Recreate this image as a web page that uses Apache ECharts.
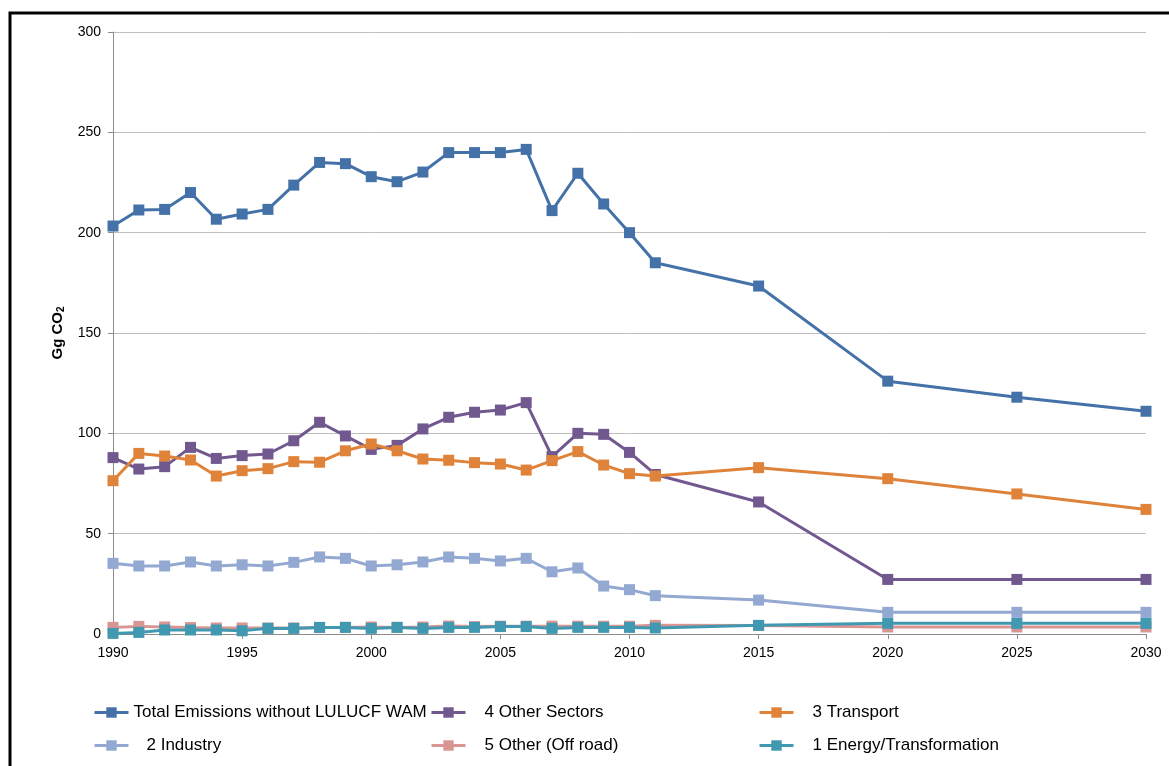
<!DOCTYPE html>
<html>
<head>
<meta charset="utf-8">
<script src="https://cdn.jsdelivr.net/npm/echarts@6/dist/echarts.min.js"></script>
<style>
html,body{margin:0;padding:0;background:#fff;}
#chart{width:1169px;height:766px;}
</style>
</head>
<body>
<div id="chart"></div>
<script>
// ---- data ----
const years = [1990,1991,1992,1993,1994,1995,1996,1997,1998,1999,2000,2001,2002,2003,2004,2005,2006,2007,2008,2009,2010,2011,2015,2020,2025,2030];
const totalEmissions = [203.3,211.3,211.6,220,206.7,209.3,211.6,223.7,235,234.4,227.9,225.4,230.2,239.9,239.9,239.9,241.5,211,229.6,214.3,200,185,173.4,126,118,111];
const otherSectors = [87.9,82.2,83.4,93,87.5,88.9,89.7,96.3,105.5,98.7,92,94,102.2,108,110.5,111.6,115.3,88.4,100,99.5,90.5,79.5,65.8,27.2,27.2,27.2];
const transport = [76.4,90,88.7,86.7,78.7,81.4,82.4,85.9,85.6,91.3,94.7,91.3,87.2,86.6,85.4,84.7,81.7,86.4,90.9,84.2,79.9,78.7,82.9,77.4,69.8,62.1];
const industry = [35.2,33.9,33.9,35.9,33.9,34.5,33.9,35.7,38.4,37.7,33.9,34.5,35.9,38.4,37.7,36.4,37.7,31,32.9,23.9,22.1,19.1,16.9,10.8,10.8,10.8];
const otherOffRoad = [3.3,3.8,3.5,3.2,3.0,3.0,3.0,3.0,3.2,3.3,3.5,3.3,3.5,4.0,3.7,3.9,3.9,3.9,3.9,3.9,3.9,4.3,4.2,3.5,3.5,3.5];
const energyTransformation = [0.3,0.8,2.0,2.0,2.0,1.6,2.8,2.8,3.3,3.3,2.8,3.3,2.8,3.3,3.3,3.7,3.7,2.8,3.3,3.3,3.3,3.0,4.3,5.3,5.3,5.3];
const seriesNames = ['Total Emissions without LULUCF WAM','4 Other Sectors','3 Transport','2 Industry','5 Other (Off road)','1 Energy/Transformation'];
const yTicks = [0,50,100,150,200,250,300];
const xTicks = [1990,1995,2000,2005,2010,2015,2020,2025,2030];

// ---- styles ----
const colors = ['#4472A8','#71588F','#E0833A','#93A9D1','#D99592','#4099B0'];
const values = [totalEmissions, otherSectors, transport, industry, otherOffRoad, energyTransformation];
const FONT = "'Liberation Sans', 'DejaVu Sans', sans-serif";

const series = seriesNames.map((n, i) => ({
  name: n,
  type: 'line',
  data: years.map((y, k) => [y, values[i][k]]),
  symbol: 'rect',
  symbolSize: 11,
  lineStyle: { color: colors[i], width: 3 },
  itemStyle: { color: colors[i] },
  emphasis: { disabled: true },
  animation: false,
  z: 2 + i
}));

const legendPos = [
  { left: 93, top: 704, pad: 0 },
  { left: 430, top: 704, pad: 14 },
  { left: 758, top: 704, pad: 14 },
  { left: 93, top: 737, pad: 13 },
  { left: 430, top: 737, pad: 14 },
  { left: 758, top: 737, pad: 14 }
];
const legends = seriesNames.map((n, i) => ({
  data: [n],
  left: legendPos[i].left,
  top: legendPos[i].top,
  padding: 0,
  itemWidth: 34,
  itemHeight: 13,
  selectedMode: false,
  lineStyle: { width: 3 },
  textStyle: { fontFamily: FONT, fontSize: 17, color: '#000', padding: [0, 0, 0, legendPos[i].pad] }
}));

const chart = echarts.init(document.getElementById('chart'), null, { renderer: 'canvas' });
chart.setOption({
  backgroundColor: '#fff',
  animation: false,
  color: colors,
  graphic: [{
    type: 'rect',
    shape: { x: 10, y: 13, width: 1400, height: 900 },
    style: { fill: 'none', stroke: '#000', lineWidth: 3 },
    silent: true
  }],
  grid: { left: 113, right: 23, top: 32, bottom: 132, containLabel: false },
  legend: legends,
  xAxis: {
    type: 'value',
    min: xTicks[0],
    max: xTicks[xTicks.length - 1],
    interval: 5,
    axisLine: { show: true, lineStyle: { color: '#8C8C8C', width: 1 } },
    axisTick: { show: true, length: 5, lineStyle: { color: '#8C8C8C' } },
    splitLine: { show: false },
    axisLabel: { fontFamily: FONT, fontSize: 14, color: '#000', margin: 12,
      formatter: v => xTicks.includes(v) ? String(v) : '' }
  },
  yAxis: {
    type: 'value',
    min: yTicks[0],
    max: yTicks[yTicks.length - 1],
    interval: 50,
    name: '{a|Gg CO}{b|2}',
    nameLocation: 'middle',
    nameRotate: 90,
    nameGap: 46,
    nameTextStyle: {
      rich: {
        a: { fontFamily: FONT, fontSize: 15, fontWeight: 'bold', color: '#000' },
        b: { fontFamily: FONT, fontSize: 10, fontWeight: 'bold', color: '#000', padding: [8, 0, 0, 0] }
      }
    },
    axisLine: { show: true, lineStyle: { color: '#8C8C8C', width: 1 } },
    axisTick: { show: true, length: 5, lineStyle: { color: '#8C8C8C' } },
    splitLine: { show: true, lineStyle: { color: '#BEBEBE', width: 1 } },
    axisLabel: { fontFamily: FONT, fontSize: 14, color: '#000', margin: 12 }
  },
  series: series
});
</script>
</body>
</html>
